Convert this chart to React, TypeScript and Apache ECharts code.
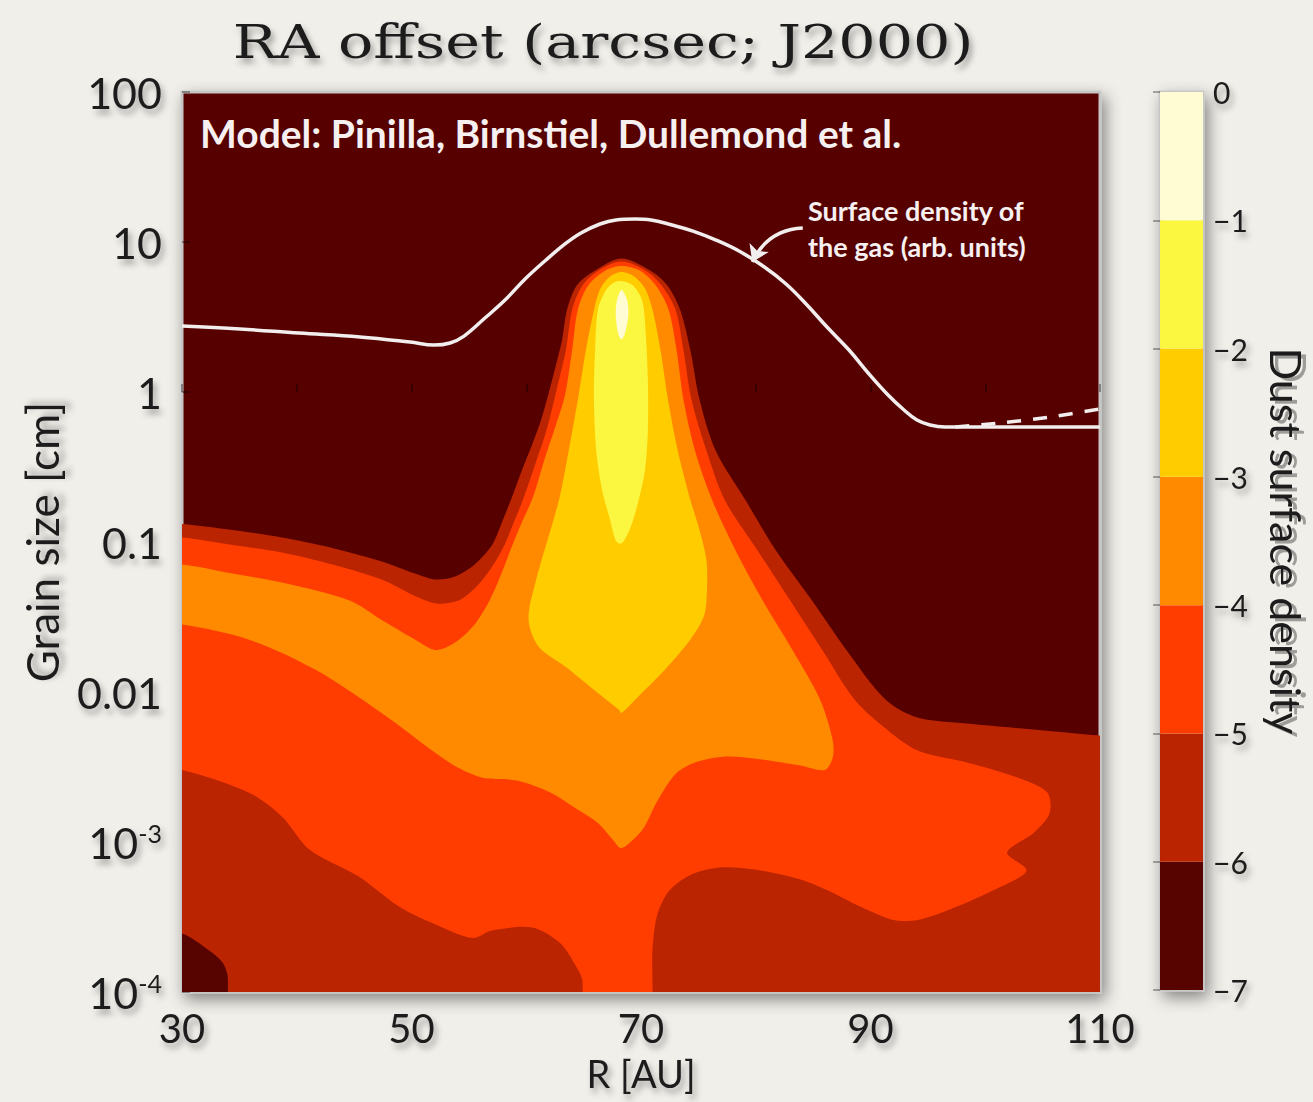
import React, { useEffect, useRef } from "react";
import * as echarts from "echarts";

// Contour levels of log10(dust surface density) and their fill colours
const LEVELS = [-7, -6, -5, -4, -3, -2, -1];
const LEVEL_COLORS = ["#570400", "#bb2400", "#ff3d00", "#ff8a00", "#ffcc00", "#fbf640", "#fffbd2"];

// Axis ticks
const R_MIN = 30;
const R_MAX = 110;
const LOGA_MIN = -4;
const LOGA_MAX = 2;
const GRAIN_TICK_TEXT: Record<string, string> = { "2": "100", "1": "10", "0": "1", "-1": "0.1", "-2": "0.01" };

// Contour outlines as [R (AU), log10 grain size (cm)]; each encloses the area above its level
const CONTOUR_M6 = [
  [27, -0.87], [30, -0.88], [34.4, -0.92], [38.7, -0.97], [43.1, -1.04], [47.4, -1.13], [50.3, -1.21],
  [52.1, -1.25], [53.8, -1.23], [55.5, -1.15], [57.02, -1.02], [57.89, -0.867], [58.76, -0.7], [59.63, -0.52],
  [60.5, -0.353], [61.29, -0.187], [61.98, 0.0], [62.59, 0.18], [63.12, 0.347], [63.55, 0.547],
  [64.4, 0.71], [66.0, 0.81], [68.3, 0.89], [70.8, 0.81], [72.3, 0.71],
  [73.4, 0.55], [74.3, 0.28], [75.1, -0.05], [76.5, -0.39], [79.1, -0.72], [81.7, -1.05], [84.9, -1.39],
  [87.9, -1.72], [91.3, -2.05], [94.1, -2.17], [98.4, -2.21], [104.2, -2.25], [110, -2.29], [113, -2.3],
  [113, -4.6], [27, -4.6],
];

// Pocket below the lowest level in the inner, small-grain corner
const POCKET_M7 = [
  [27, -3.6], [30, -3.61], [32.3, -3.72], [33.5, -3.8], [33.95, -3.88], [34.0, -3.97], [34.0, -4.6], [27, -4.6],
];

const CONTOUR_M5 = [
  [27, -0.97], [30, -0.97], [34.4, -1.02], [38.7, -1.07], [43.1, -1.15], [47.4, -1.25], [50.3, -1.36],
  [52.2, -1.41], [54.1, -1.39], [55.5, -1.31], [56.8, -1.19], [57.97, -1.04], [58.93, -0.867], [59.8, -0.7],
  [60.76, -0.487], [61.72, -0.267], [62.33, -0.087], [62.85, 0.08], [63.46, 0.28], [64.0, 0.55],
  [64.9, 0.71], [66.3, 0.81], [68.3, 0.87],
  [70.4, 0.81], [71.8, 0.71], [73.0, 0.55], [73.7, 0.28], [74.4, -0.05], [75.7, -0.39], [77.3, -0.72],
  [80.1, -1.05], [83.0, -1.39], [85.8, -1.72], [88.6, -2.05], [91.1, -2.23], [94.1, -2.39], [98.4, -2.47],
  [102.8, -2.57], [105.4, -2.67], [105.6, -2.81], [104.2, -2.94], [101.9, -3.07], [103.6, -3.19],
  [101.3, -3.3], [96.9, -3.45], [94.1, -3.52], [92.0, -3.52], [89.1, -3.43], [86.2, -3.32], [83.9, -3.25],
  [80.4, -3.19], [76.9, -3.17], [74.3, -3.22], [72.4, -3.33], [71.4, -3.49], [71.0, -3.72], [71.0, -3.95],
  [71.0, -4.6], [64.9, -4.6], [64.9, -3.93], [64.2, -3.81], [62.9, -3.67], [60.5, -3.57], [57.0, -3.59],
  [55.3, -3.64], [51.8, -3.54], [48.9, -3.43], [45.4, -3.23], [41.1, -3.05], [38.7, -2.83], [35.8, -2.67],
  [30, -2.52], [27, -2.51],
];

const CONTOUR_M4 = [
  [27, -1.15], [30, -1.15], [34.4, -1.21], [38.7, -1.27], [44.6, -1.39], [47.4, -1.52], [50.3, -1.65],
  [52.1, -1.72], [53.8, -1.67], [55.5, -1.55], [56.8, -1.39], [57.89, -1.2], [58.76, -1.027], [59.63, -0.867],
  [60.59, -0.7], [61.63, -0.44], [62.59, -0.22], [63.38, -0.02], [64.0, 0.28], [64.5, 0.55], [65.4, 0.71],
  [66.9, 0.81], [68.3, 0.84],
  [69.9, 0.81], [71.3, 0.71], [72.4, 0.55], [73.1, 0.28], [73.7, -0.05], [74.7, -0.39], [76.2, -0.72],
  [78.2, -1.05], [80.6, -1.39], [83.2, -1.72], [85.6, -2.05], [86.7, -2.32], [86.7, -2.44], [86.0, -2.52],
  [83.9, -2.49], [78.0, -2.43], [75.1, -2.46], [73.1, -2.54], [71.4, -2.73], [70.2, -2.91], [68.8, -3.02],
  [68.2, -3.04], [67.6, -2.99], [66.2, -2.87], [64.4, -2.78], [62.1, -2.67], [59.2, -2.59], [56.1, -2.57],
  [53.3, -2.47], [47.4, -2.14], [41.6, -1.85], [35.8, -1.65], [30, -1.55], [27, -1.55],
];

const CONTOUR_M3 = [
  [68.3, 0.8], [69.4, 0.77], [70.35, 0.69], [71.0, 0.55], [71.7, 0.28], [72.35, -0.05], [73.2, -0.39],
  [74.3, -0.72], [75.1, -0.92], [75.7, -1.12], [75.75, -1.32], [75.5, -1.49], [74.3, -1.65], [72.1, -1.85],
  [69.9, -2.02], [68.3, -2.14], [68.1, -2.12], [66.3, -2.01], [63.4, -1.83], [61.1, -1.7], [60.2, -1.52],
  [60.8, -1.27], [62.85, -0.72], [63.7, -0.39], [64.5, -0.05], [65.2, 0.28], [65.8, 0.51], [66.4, 0.68],
  [67.3, 0.77],
];

const CONTOUR_M2 = [
  [68.3, 0.74], [69.3, 0.71], [70.1, 0.61], [70.4, 0.41], [70.6, 0.08], [70.6, -0.25], [70.35, -0.52],
  [69.7, -0.75], [69.0, -0.92], [68.3, -1.01], [67.8, -0.99], [67.3, -0.85], [66.6, -0.65], [66.1, -0.39],
  [65.9, -0.05], [66.0, 0.28], [66.25, 0.55], [66.95, 0.68], [67.65, 0.73],
];

const CONTOUR_M1 = [
  [68.3, 0.68], [68.8, 0.61], [68.9, 0.51], [68.6, 0.39], [68.3, 0.35], [68.0, 0.39], [67.8, 0.51], [67.9, 0.61],
];

// Gas surface density profile (arbitrary units, plotted on the grain-size axis)
const GAS_PROFILE = [
  [30, 0.44], [35.05, 0.42], [40.2, 0.393], [45.5, 0.367], [49.87, 0.333], [51.96, 0.313], [53.36, 0.327],
  [54.58, 0.373], [56.4, 0.493], [58.15, 0.613], [59.9, 0.753], [61.72, 0.88], [63.38, 0.987], [64.77, 1.06],
  [66.43, 1.12], [67.82, 1.147], [69.48, 1.153], [70.87, 1.147], [72.7, 1.113], [74.53, 1.073],
  [76.54, 1.013], [78.54, 0.94], [80.63, 0.84], [82.64, 0.72], [84.47, 0.58], [86.21, 0.433], [88.13, 0.28],
  [89.87, 0.12], [91.53, -0.02], [92.92, -0.12], [94.05, -0.187], [95.19, -0.22], [96.5, -0.233],
  [101.29, -0.233], [110, -0.233],
];
const GAS_PROFILE_ALT = [[97.4, -0.233], [101.3, -0.207], [105.6, -0.167], [110, -0.113]];
const GAS_ARROW = [[84.1, 1.093], [79.7, 0.867]];

const SHADOW = {
  textShadowColor: "rgba(0,0,0,0.35)",
  textShadowBlur: 6,
  textShadowOffsetX: 3,
  textShadowOffsetY: 5,
};

function region(points: number[][], color: string, name: string) {
  return {
    type: "custom",
    name,
    xAxisIndex: 0,
    yAxisIndex: 0,
    clip: true,
    silent: true,
    data: points,
    renderItem: (params: any, api: any) => {
      if (params.dataIndex !== 0) return null;
      const pts = points.map((p) => api.coord(p));
      return {
        type: "polygon",
        shape: { points: pts, smooth: 0.3 },
        style: { fill: color },
      };
    },
  };
}

function grainLabel(v: number) {
  const key = String(Math.round(v));
  if (GRAIN_TICK_TEXT[key]) return GRAIN_TICK_TEXT[key];
  return `10{sup|${Math.round(v)}}`;
}

function buildOption() {
  const frame = {
    show: true,
    borderColor: "#c6c6c6",
    borderWidth: 3,
    shadowBlur: 16,
    shadowColor: "rgba(0,0,0,0.45)",
    shadowOffsetX: 4,
    shadowOffsetY: 6,
    outerBoundsMode: "none",
  };
  return {
    animation: false,
    backgroundColor: "#f1efea",
    grid: [
      { ...frame, left: 182, top: 92, width: 918, height: 900, backgroundColor: LEVEL_COLORS[0] },
      { ...frame, left: 1160, top: 92, width: 43, height: 898, backgroundColor: "#ffffff" },
    ],
    xAxis: [
      {
        gridIndex: 0,
        type: "value",
        min: R_MIN,
        max: R_MAX,
        interval: 10,
        name: "R [AU]",
        nameLocation: "middle",
        nameGap: 62,
        nameTextStyle: { fontFamily: "Lato", fontSize: 38, color: "#1e1e1e", ...SHADOW },
        axisLine: { show: false },
        axisTick: { show: true, inside: true, length: 8, lineStyle: { color: "rgba(0,0,0,0.35)", width: 2 } },
        splitLine: { show: false },
        axisLabel: {
          margin: 16,
          fontFamily: "Lato",
          fontSize: 40,
          color: "#1e1e1e",
          ...SHADOW,
          formatter: (v: number) => ((v - R_MIN) % 20 === 0 ? String(v) : ""),
        },
      },
      { gridIndex: 1, type: "value", min: 0, max: 1, show: false },
    ],
    yAxis: [
      {
        gridIndex: 0,
        type: "value",
        min: LOGA_MIN,
        max: LOGA_MAX,
        interval: 1,
        name: "Grain size [cm]",
        nameLocation: "middle",
        nameRotate: 90,
        nameGap: 118,
        nameTextStyle: { fontFamily: "Lato", fontSize: 44, color: "#1e1e1e", ...SHADOW },
        axisLine: { show: false },
        axisTick: { show: true, inside: true, length: 8, lineStyle: { color: "rgba(0,0,0,0.35)", width: 2 } },
        splitLine: { show: false },
        axisLabel: {
          margin: 20,
          fontFamily: "Lato",
          fontSize: 43,
          color: "#1e1e1e",
          ...SHADOW,
          formatter: grainLabel,
          rich: { sup: { fontFamily: "Lato", fontSize: 25, verticalAlign: "top", color: "#1e1e1e", padding: [0, 0, 18, 0] } },
        },
      },
      {
        gridIndex: 1,
        type: "value",
        min: -7,
        max: 0,
        interval: 1,
        position: "right",
        name: "Dust surface density",
        nameLocation: "middle",
        nameRotate: -90,
        nameGap: 62,
        nameTextStyle: { fontFamily: "Lato", fontSize: 43, color: "#1e1e1e", ...SHADOW, textShadowOffsetX: -3 },
        axisLine: { show: false },
        axisTick: { show: true, inside: true, length: 7, lineStyle: { color: "rgba(0,0,0,0.3)", width: 2 } },
        splitLine: { show: false },
        axisLabel: {
          margin: 10,
          fontFamily: "Lato",
          fontSize: 30,
          color: "#1e1e1e",
          ...SHADOW,
          formatter: (v: number) => (v === 0 ? "0" : "\u2212" + Math.abs(v)),
        },
      },
    ],
    series: [
      region(CONTOUR_M6, LEVEL_COLORS[1], "level -6"),
      region(POCKET_M7, LEVEL_COLORS[0], "below -6"),
      region(CONTOUR_M5, LEVEL_COLORS[2], "level -5"),
      region(CONTOUR_M4, LEVEL_COLORS[3], "level -4"),
      region(CONTOUR_M3, LEVEL_COLORS[4], "level -3"),
      region(CONTOUR_M2, LEVEL_COLORS[5], "level -2"),
      region(CONTOUR_M1, LEVEL_COLORS[6], "level -1"),
      {
        type: "line",
        name: "gas",
        data: GAS_PROFILE,
        smooth: 0.4,
        symbol: "none",
        silent: true,
        lineStyle: { color: "#f2eeee", width: 3.5 },
      },
      {
        type: "line",
        name: "gas alt",
        data: GAS_PROFILE_ALT,
        smooth: 0.3,
        symbol: "none",
        silent: true,
        lineStyle: { color: "#f2eeee", width: 3.5, type: [14, 12] },
      },
      {
        type: "lines",
        coordinateSystem: "cartesian2d",
        silent: true,
        symbol: ["none", "arrow"],
        symbolSize: 16,
        lineStyle: { color: "#f2eeee", width: 3.5, curveness: -0.3, opacity: 1 },
        data: [{ coords: GAS_ARROW }],
      },
      {
        type: "custom",
        name: "colorbar",
        xAxisIndex: 1,
        yAxisIndex: 1,
        silent: true,
        data: LEVELS.map((lv) => [0, lv]),
        renderItem: (params: any, api: any) => {
          const lv = api.value(1);
          const p0 = api.coord([0, lv + 1]);
          const p1 = api.coord([1, lv]);
          return {
            type: "rect",
            shape: { x: p0[0], y: p0[1], width: p1[0] - p0[0], height: p1[1] - p0[1] },
            style: { fill: LEVEL_COLORS[params.dataIndex] },
          };
        },
      },
    ],
    graphic: [
      {
        type: "text",
        x: 603,
        y: 42,
        scaleX: 1.25,
        silent: true,
        style: {
          text: "RA offset (arcsec; J2000)",
          font: '47px "DejaVu Serif"',
          fill: "#1e1e1e",
          align: "center",
          verticalAlign: "middle",
          ...SHADOW,
        },
      },
      {
        type: "text",
        x: 200,
        y: 133,
        z: 100,
        silent: true,
        style: {
          text: "Model: Pinilla, Birnstiel, Dullemond et al.",
          font: 'bold 39px Lato',
          fill: "#f6f0f0",
          align: "left",
          verticalAlign: "middle",
        },
      },
      {
        type: "text",
        x: 808,
        y: 192,
        z: 100,
        silent: true,
        style: {
          text: "Surface density of\nthe gas (arb. units)",
          font: 'bold 27px Lato',
          lineHeight: 36,
          fill: "#f6f0f0",
          align: "left",
          verticalAlign: "top",
        },
      },
    ],
  };
}

export default function App() {
  const ref = useRef<HTMLDivElement>(null);
  useEffect(() => {
    document.body.style.margin = "0";
    const chart = echarts.init(ref.current!, null, { renderer: "svg" });
    chart.setOption(buildOption() as any);
    return () => chart.dispose();
  }, []);
  return <div ref={ref} style={{ width: 1313, height: 1102, background: "#f1efea" }} />;
}
